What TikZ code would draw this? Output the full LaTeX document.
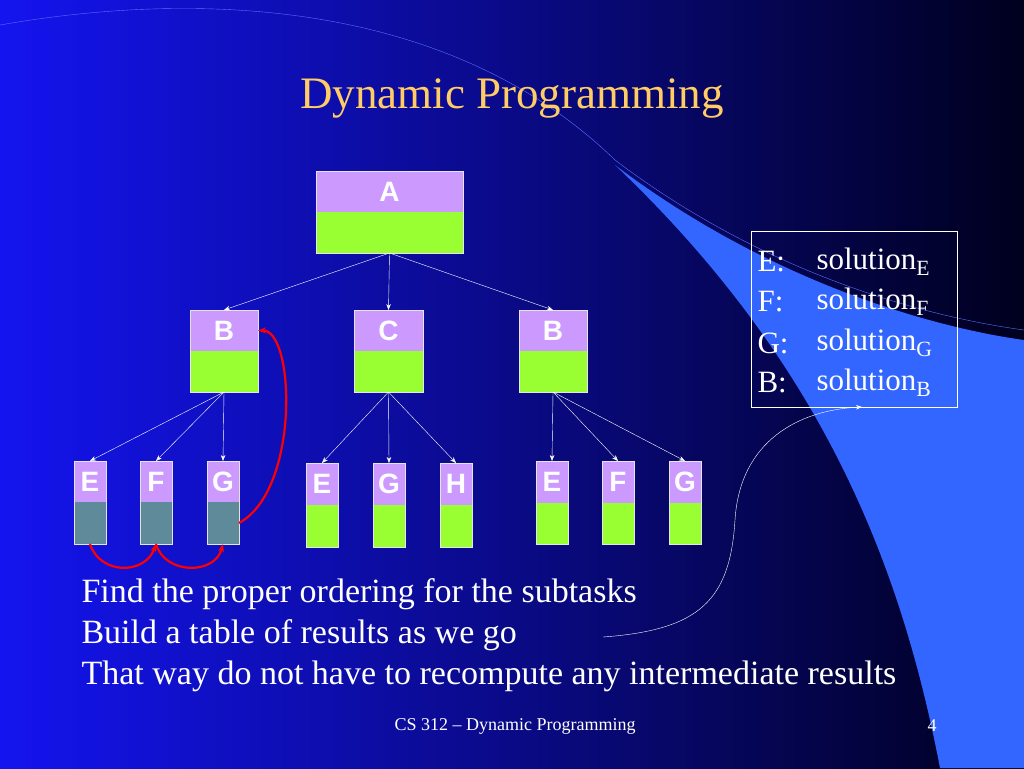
\documentclass[tikz,border=0pt]{standalone}
\usepackage{fontspec}
\setmainfont{Liberation Serif}
\newfontfamily\sans{Liberation Sans}
\usetikzlibrary{arrows.meta}
\definecolor{pur}{HTML}{CC99FF}
\definecolor{grn}{HTML}{99FF33}
\definecolor{tea}{HTML}{5F8A9A}
\definecolor{gold}{HTML}{FFCC66}
\definecolor{lb}{HTML}{3366FF}
\definecolor{bgl}{RGB}{20,20,240}
\definecolor{bgm}{RGB}{10,10,190}
\definecolor{bgr}{RGB}{0,0,30}
\definecolor{arc}{RGB}{90,110,255}
\begin{document}
\begin{tikzpicture}[x=1pt,y=-1pt,
 lab/.style={font=\sans\bfseries\fontsize{28}{28}\selectfont,text=white},
 ed/.style={white,-{Stealth[length=6pt]}},
 rd/.style={red,line width=2.2pt,-{Stealth[length=8pt]}},
 tx/.style={text=white,anchor=west,font=\fontsize{34}{34}\selectfont},
 kx/.style={text=white,anchor=west,font=\fontsize{31}{31}\selectfont}]
\useasboundingbox (0,0) rectangle (1024,768);
\shade[left color=bgl,middle color=bgm,right color=bgr] (0,0) rectangle (1024,768);
\fill[lb] (615,165) .. controls (780,290) and (950,330) .. (1024,340) -- (1024,768) -- (940,768) .. controls (900,560) and (820,360) .. (615,165) -- cycle;
\draw[arc] (0,25) .. controls (200,-10) and (450,0) .. (615,160) .. controls (780,285) and (950,320) .. (1024,330);
\node[font=\fontsize{45}{45}\selectfont,text=black!70] at (514,101) {\phantom{D}};
\node[font=\fontsize{45}{45}\selectfont,text=gold] (t) at (512,98) {Dynamic Programming};
\foreach \n/\a/\b/\c/\m/\d/\l/\col in {A/316/463/171/212/253/A/grn, B/190/258/310/351/392/B/grn, C/354/423/310/351/392/C/grn, Bb/519/587/310/351/392/B/grn,
 E/74/106/461/502/544/E/tea, F/140/172/461/502/544/F/tea, G/207/239/461/502/544/G/tea,
 E2/306/338/463/505/547/E/grn, G2/373/405/463/505/547/G/grn, H/440/472/463/505/547/H/grn,
 E3/536/568/461/503/544/E/grn, F3/602/634/461/503/544/F/grn, G3/669/701/461/503/544/G/grn}{
 \fill[pur] (\a,\c) rectangle (\b,\m);
 \fill[\col] (\a,\m) rectangle (\b,\d);
 \draw[white!80!gray] (\a,\c) rectangle (\b,\d);
 \node[lab] (\n-t) at ({(\a+\b)/2},{(\c+\m)/2}) {\l};
 \coordinate (\n-top) at ({(\a+\b)/2},\c);
 \coordinate (\n-bot) at ({(\a+\b)/2},\d);
 \coordinate (\n-r) at (\b,{(\c+\m)/2});
 \coordinate (\n-rb) at (\b,{(\m+\d)/2});
}
\foreach \s/\t in {A/B,A/C,A/Bb,B/E,B/F,B/G,C/E2,C/G2,C/H,Bb/E3,Bb/F3,Bb/G3}
 \draw[ed] (\s-bot) -- (\t-top);
\draw[rd] (G-rb) .. controls (300,490) and (295,330) .. (B-r);
\draw[rd] (E-bot) .. controls (100,575) and (145,575) .. (F-bot);
\draw[rd] (F-bot) .. controls (165,575) and (215,575) .. (G-bot);
\draw[white] (751,231) rectangle (957,407);
\foreach \k/\y in {E/262,F/302,G/343,B/383}{
 \node[kx] (kl\k) at (754,\y) {\k:};
 \node[kx] (kv\k) at (813,\y) {solution\textsubscript{\k}};
}
\node[tx] (l1) at (78,594) {Find the proper ordering for the subtasks};
\node[tx] (l2) at (78,635) {Build a table of results as we go};
\node[tx] (l3) at (78,676) {That way do not have to recompute any intermediate results};
\coordinate (s) at (603,637);
\coordinate (e) at (862,407);
\draw[white,-{Stealth[length=6pt]}] (s) .. controls (700,630) and (730,600) .. (735,520) .. controls (740,440) and (800,410) .. (e);
\node[text=white,font=\fontsize{18}{18}\selectfont] (f) at (515,726) {CS 312 -- Dynamic Programming};
\node[text=white,font=\fontsize{18}{18}\selectfont] (n) at (932,726) {4};
\end{tikzpicture}
\end{document}
